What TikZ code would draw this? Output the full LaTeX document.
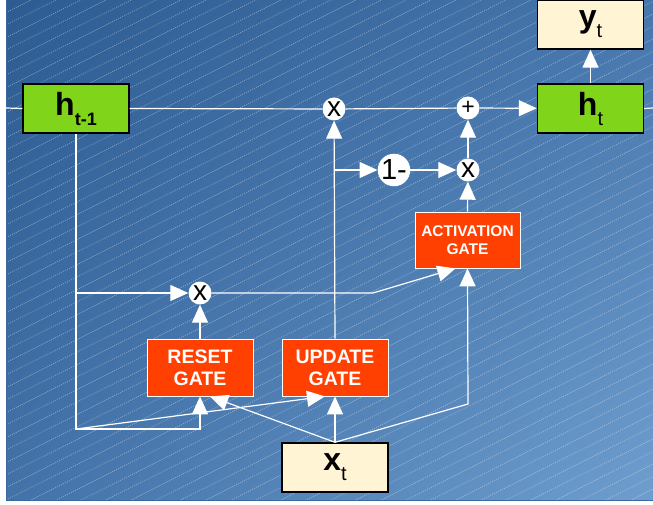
\documentclass[tikz,border=0pt]{standalone}
\usepackage{fontspec}
\setmainfont{Liberation Sans}
\usetikzlibrary{arrows.meta,calc,shadings}

\definecolor{bgTL}{RGB}{44,92,146}
\definecolor{bgTR}{RGB}{70,118,172}
\definecolor{bgBL}{RGB}{66,114,168}
\definecolor{bgBR}{RGB}{110,157,206}
\definecolor{bgEdge}{RGB}{58,104,160}
\definecolor{hgreen}{RGB}{128,212,26}
\definecolor{cream}{RGB}{255,244,212}
\definecolor{gateorange}{RGB}{255,64,0}

\tikzset{
  wire/.style={draw=white, line width=1.2pt},
  arr/.style={wire, -{Triangle[length=18pt,width=16pt]}},
  hatch/.style={draw=white, opacity=0.5, line width=0.6pt, dash pattern=on 1pt off 1.2pt},
  statebox/.style={draw=black, line width=1.4pt, fill=hgreen, minimum width=106pt,
    minimum height=49pt, inner sep=0pt},
  iobox/.style={statebox, fill=cream},
  gatebox/.style={draw=white, line width=0.8pt, fill=gateorange, text=white,
    minimum width=106pt, minimum height=57pt, align=center, inner sep=0pt,
    font=\fontsize{19.5}{22}\selectfont\bfseries},
  opnode/.style={circle, fill=white, minimum size=23pt, inner sep=0pt,
    font=\fontsize{28}{28}\selectfont},
}

\newcommand{\bigsym}[2]{{\fontsize{32}{32}\selectfont\bfseries #1}\raisebox{-10pt}{\fontsize{20}{20}\selectfont #2}}

\begin{document}
\begin{tikzpicture}[x=1pt,y=-1pt]
  \useasboundingbox (0,0) rectangle (653,505);

  % background panel with diagonal dotted hatching
  \shade[upper left=bgTL, upper right=bgTR, lower left=bgBL, lower right=bgBR]
    (6,0) rectangle (653,500);
  \begin{scope}
    \clip (6,0) rectangle (653,500);
    \foreach \c in {0,12.5,...,837.5}
      \draw[hatch] (6,\c) -- ++(647,-323.5);
  \end{scope}
  \draw[bgEdge, line width=0.8pt] (6,0) -- (6,500) -- (653,500);

  % state, input and output boxes
  \node[statebox] (hprev) at (76,108.5) {\bigsym{h}{\fontsize{18}{18}\selectfont\bfseries t-1}};
  \node[statebox] (ht)    at (590.5,108.5) {\bigsym{h}{t}};
  \node[iobox]    (yt)    at (590.5,24.5) {\bigsym{y}{t}};
  \node[iobox]    (xt)    at (335,467.5) {\bigsym{x}{t}};

  % gates
  \node[gatebox] (reset)  at (200,367.5) {RESET\\GATE};
  \node[gatebox] (update) at (335,367.5) {UPDATE\\GATE};
  \node[gatebox, minimum width=105pt, minimum height=56pt,
        font=\fontsize{15.5}{18}\selectfont\bfseries] (act) at (467.5,240) {ACTIVATION\\GATE};

  % pointwise operations
  \node[opnode] (mtop)  at (334,109) {x};
  \node[opnode, font=\fontsize{23}{23}\selectfont] (plus) at (468,108) {+};
  \node[opnode, minimum size=28pt, font=\fontsize{29}{29}\selectfont] (oneminus) at (394,170) {1-};
  \node[opnode] (mmid)  at (468,170) {x};
  \node[opnode] (mreset) at (200,293) {x};

  % helper points on the wiring
  \coordinate (inL)   at (6,108);
  \coordinate (outR)  at (653,108);
  \coordinate (loopL) at (76,429);
  \coordinate (loopR) at (200,429);
  \coordinate (bend)  at (373,293);
  \coordinate (xright) at (468,404);

  % main state line
  \draw[wire] (inL) -- (hprev.west);
  \draw[wire] (hprev.east) -- (mtop);
  \draw[wire] (mtop) -- (plus);
  \draw[arr]  (plus) -- (ht);
  \draw[wire] (ht.east) -- (outR);
  \draw[arr]  (ht) -- (yt);

  % previous state fed down to the gates
  \draw[arr]  (hprev.south) |- (loopR) -- (reset.south);
  \draw[arr]  (hprev.south |- mreset) -- (mreset);
  \draw[arr]  (loopL) -- ([xshift=-10pt]update.south);

  % input fed to the gates
  \draw[arr]  (xt.north) -- ([xshift=10pt]reset.south);
  \draw[arr]  (xt.north) -- (update.south);
  \draw[arr]  (xt.north) -- (xright) -- (act.south);

  % reset path into the activation gate
  \draw[arr]  (reset.north) -- (mreset);
  \draw[arr]  (mreset) -- (bend) -- ([xshift=-12pt]act.south);

  % update path
  \draw[arr]  (update.north) -- (mtop);
  \draw[arr]  (update.north |- oneminus) -- (oneminus);
  \draw[arr]  (oneminus) -- (mmid);
  \draw[arr]  (act.north) -- (mmid);
  \draw[arr]  (mmid) -- (plus);
\end{tikzpicture}
\end{document}
